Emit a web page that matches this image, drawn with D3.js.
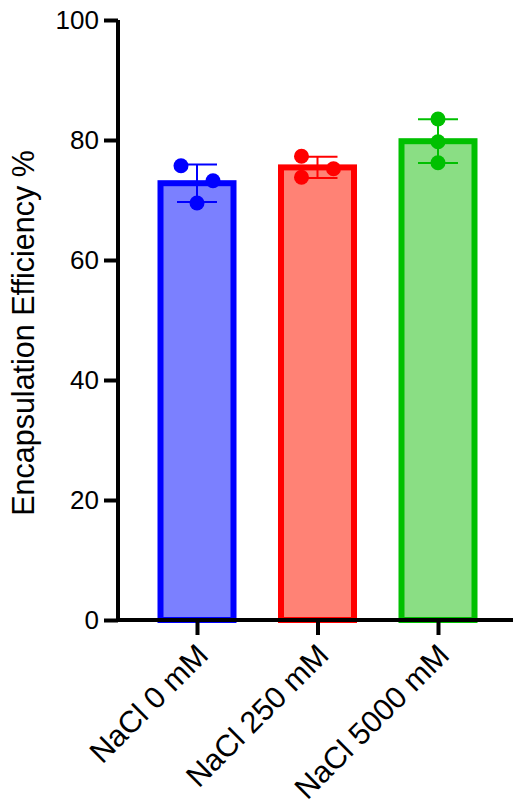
<!DOCTYPE html>
<html>
<head>
<meta charset="utf-8">
<script src="https://cdn.jsdelivr.net/npm/d3@7"></script>
<style>
  body { margin: 0; background: #fff; }
  svg text { font-family: Arial, "Liberation Sans", sans-serif; fill: #000; }
</style>
</head>
<body>
<svg id="chart" width="516" height="810"></svg>
<script>
// data
const groups = ["NaCl 0 mM", "NaCl 250 mM", "NaCl 5000 mM"];
const replicates = [
    [75.7, 73.2, 69.5],
    [77.3, 75.2, 73.8],
    [83.5, 79.7, 76.2]
];
// horizontal scatter slot for each replicate (-1 left, 0 centre, 1 right)
const jitter = [
    [-1, 1, 0],
    [-1, 1, -1],
    [0, 0, 0]
];
const yTicks = [0, 20, 40, 60, 80, 100];
const yLabel = "Encapsulation Efficiency %";

const strokeColors = ["#0000ff", "#ff0000", "#00c000"];
const fillColors = ["#7b80ff", "#ff8275", "#8ade84"];

const svg = d3.select("#chart");

const yScale = d3.scaleLinear().domain([0, 100]).range([620, 20]);
const xScale = d3.scalePoint().domain(groups).range([197, 438]);

const barW = 73;
const capW = 40;
const jitterPx = 16;

const stats = groups.map((g, i) => {
    const vals = replicates[i];
    return { group: g, i: i, mean: d3.mean(vals), sd: d3.deviation(vals) };
});

// bars
svg.selectAll("rect.bar")
    .data(stats)
    .enter().append("rect")
    .attr("class", "bar")
    .attr("x", d => xScale(d.group) - barW / 2)
    .attr("width", barW)
    .attr("y", d => yScale(d.mean))
    .attr("height", d => yScale(0) - yScale(d.mean))
    .attr("fill", d => fillColors[d.i])
    .attr("stroke", d => strokeColors[d.i])
    .attr("stroke-width", 6);

// error bars
const err = svg.selectAll("g.err")
    .data(stats)
    .enter().append("g")
    .attr("class", "err")
    .attr("stroke", d => strokeColors[d.i])
    .attr("stroke-width", 2);

err.append("line")
    .attr("x1", d => xScale(d.group)).attr("x2", d => xScale(d.group))
    .attr("y1", d => yScale(d.mean + d.sd)).attr("y2", d => yScale(d.mean - d.sd));
err.append("line")
    .attr("x1", d => xScale(d.group) - capW / 2).attr("x2", d => xScale(d.group) + capW / 2)
    .attr("y1", d => yScale(d.mean + d.sd)).attr("y2", d => yScale(d.mean + d.sd));
err.append("line")
    .attr("x1", d => xScale(d.group) - capW / 2).attr("x2", d => xScale(d.group) + capW / 2)
    .attr("y1", d => yScale(d.mean - d.sd)).attr("y2", d => yScale(d.mean - d.sd));

// replicate points
const points = [];
replicates.forEach((vals, i) => {
    vals.forEach((v, j) => points.push({ group: groups[i], i: i, v: v, slot: jitter[i][j] }));
});

svg.selectAll("circle.pt")
    .data(points)
    .enter().append("circle")
    .attr("class", "pt")
    .attr("cx", d => xScale(d.group) + d.slot * jitterPx)
    .attr("cy", d => yScale(d.v))
    .attr("r", 7.5)
    .attr("fill", d => strokeColors[d.i]);

// y axis
const yAxis = svg.append("g")
    .attr("transform", "translate(118,0)")
    .call(d3.axisLeft(yScale).tickValues(yTicks).tickSize(14).tickPadding(5));
yAxis.select(".domain").attr("stroke-width", 4).attr("d", `M0,${yScale(100)}V${yScale(0) + 2}`);
yAxis.selectAll(".tick line").attr("stroke-width", 4);
yAxis.selectAll(".tick text").attr("font-size", 26).style("font-family", 'Arial, "Liberation Sans", sans-serif');

// x axis
const xAxis = svg.append("g")
    .attr("transform", `translate(0,${yScale(0)})`)
    .call(d3.axisBottom(xScale).tickSize(15).tickFormat(""));
xAxis.select(".domain").attr("stroke-width", 4).attr("d", "M116,0H513");
xAxis.selectAll(".tick line").attr("stroke-width", 4);

svg.append("g").selectAll("text")
    .data(groups)
    .enter().append("text")
    .attr("transform", d => `translate(${xScale(d) + 13},${yScale(0) + 37}) rotate(-45)`)
    .attr("text-anchor", "end")
    .attr("font-size", 30.5)
    .text(d => d);

// y label
svg.append("text")
    .attr("transform", `translate(34,${(yScale(0) + yScale(100)) / 2 + 13}) rotate(-90)`)
    .attr("text-anchor", "middle")
    .attr("font-size", 30.5)
    .text(yLabel);
</script>
</body>
</html>
